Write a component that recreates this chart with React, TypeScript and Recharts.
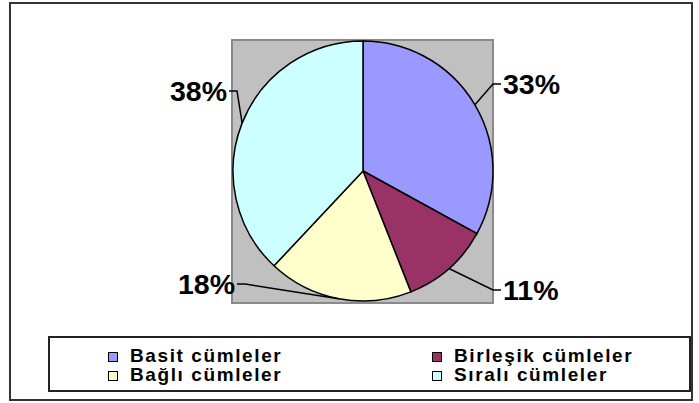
import React from 'react';
import { PieChart, Pie, Cell, Legend } from 'recharts';

const categories = ['Basit cümleler', 'Birleşik cümleler', 'Bağlı cümleler', 'Sıralı cümleler'];
const values = [33, 11, 18, 38];
const colors = ['#9999FF', '#993366', '#FFFFCC', '#CCFFFF'];

// label elbow placement relative to pie center (layout only)
const LABEL_OFFSETS = [
  { dx: 130, dy: -87 },
  { dx: 130, dy: 119 },
  { dx: -118, dy: 113 },
  { dx: -126, dy: -80 },
];

const data = categories.map((name, i) => ({ name, value: values[i] }));

const FONT = '"Liberation Sans", Arial, Helvetica, sans-serif';
const RAD = Math.PI / 180;

const renderLabel = (props: any) => {
  const { cx, cy, midAngle, outerRadius, index, percent } = props;
  const ex = cx + outerRadius * Math.cos(-midAngle * RAD);
  const ey = cy + outerRadius * Math.sin(-midAngle * RAD);
  const off = LABEL_OFFSETS[index];
  const bx = cx + off.dx;
  const by = cy + off.dy;
  const right = off.dx > 0;
  const hx = bx + (right ? 8 : -8);
  const tx = bx + (right ? 10 : -10);
  return (
    <g key={`lbl-${index}`}>
      <path d={`M${ex},${ey}L${bx},${by}L${hx},${by}`} stroke="#000" strokeWidth={1.5} fill="none" />
      <text
        x={tx}
        y={by + 10}
        textAnchor={right ? 'start' : 'end'}
        fontFamily={FONT}
        fontWeight="bold"
        fontSize={28.5}
        fill="#000"
      >
        {`${Math.round(percent * 100)}%`}
      </text>
    </g>
  );
};

const LegendBox = () => {
  const item = (i: number, left: number, top: number) => (
    <div key={i} style={{ position: 'absolute', left, top, height: 20 }}>
      <div
        style={{
          position: 'absolute',
          left: 0,
          top: 5,
          width: 10,
          height: 10,
          boxSizing: 'border-box',
          border: '1px solid #000',
          background: colors[i],
        }}
      />
      <div
        style={{
          position: 'absolute',
          left: 22,
          top: -1,
          whiteSpace: 'nowrap',
          fontFamily: FONT,
          fontWeight: 'bold',
          fontSize: 19,
          lineHeight: '20px',
          letterSpacing: '1.6px',
          color: '#000',
        }}
      >
        {categories[i]}
      </div>
    </div>
  );
  return (
    <div
      style={{
        position: 'relative',
        width: 643,
        height: 56,
        boxSizing: 'border-box',
        border: '2px solid #222',
        background: '#fff',
      }}
    >
      {item(0, 58, 9)}
      {item(1, 382, 9)}
      {item(2, 58, 28)}
      {item(3, 382, 28)}
    </div>
  );
};

export default function App() {
  return (
    <div style={{ position: 'absolute', left: 0, top: 0, width: 699, height: 403, background: '#fff' }}>
      <div
        style={{
          position: 'absolute',
          left: 9,
          top: 2,
          width: 684,
          height: 399,
          boxSizing: 'border-box',
          border: '2px solid #333',
        }}
      />
      <div
        style={{
          position: 'absolute',
          left: 231,
          top: 39,
          width: 263,
          height: 265,
          boxSizing: 'border-box',
          border: '2px solid #8a8a8a',
          background: '#C0C0C0',
        }}
      />
      <div style={{ position: 'absolute', left: 0, top: 0 }}>
        <PieChart width={699} height={403} margin={{ top: 0, right: 0, bottom: 0, left: 0 }}>
          <Pie
            data={data}
            dataKey="value"
            nameKey="name"
            cx={363}
            cy={171}
            outerRadius={130}
            startAngle={90}
            endAngle={-270}
            stroke="#000"
            strokeWidth={1.5}
            label={renderLabel}
            labelLine={false}
            isAnimationActive={false}
          >
            {data.map((d, i) => (
              <Cell key={d.name} fill={colors[i]} />
            ))}
          </Pie>
          <Legend
            content={() => <LegendBox />}
            wrapperStyle={{ left: 48, top: 336, bottom: 'auto', width: 643, height: 56 }}
          />
        </PieChart>
      </div>
    </div>
  );
}
